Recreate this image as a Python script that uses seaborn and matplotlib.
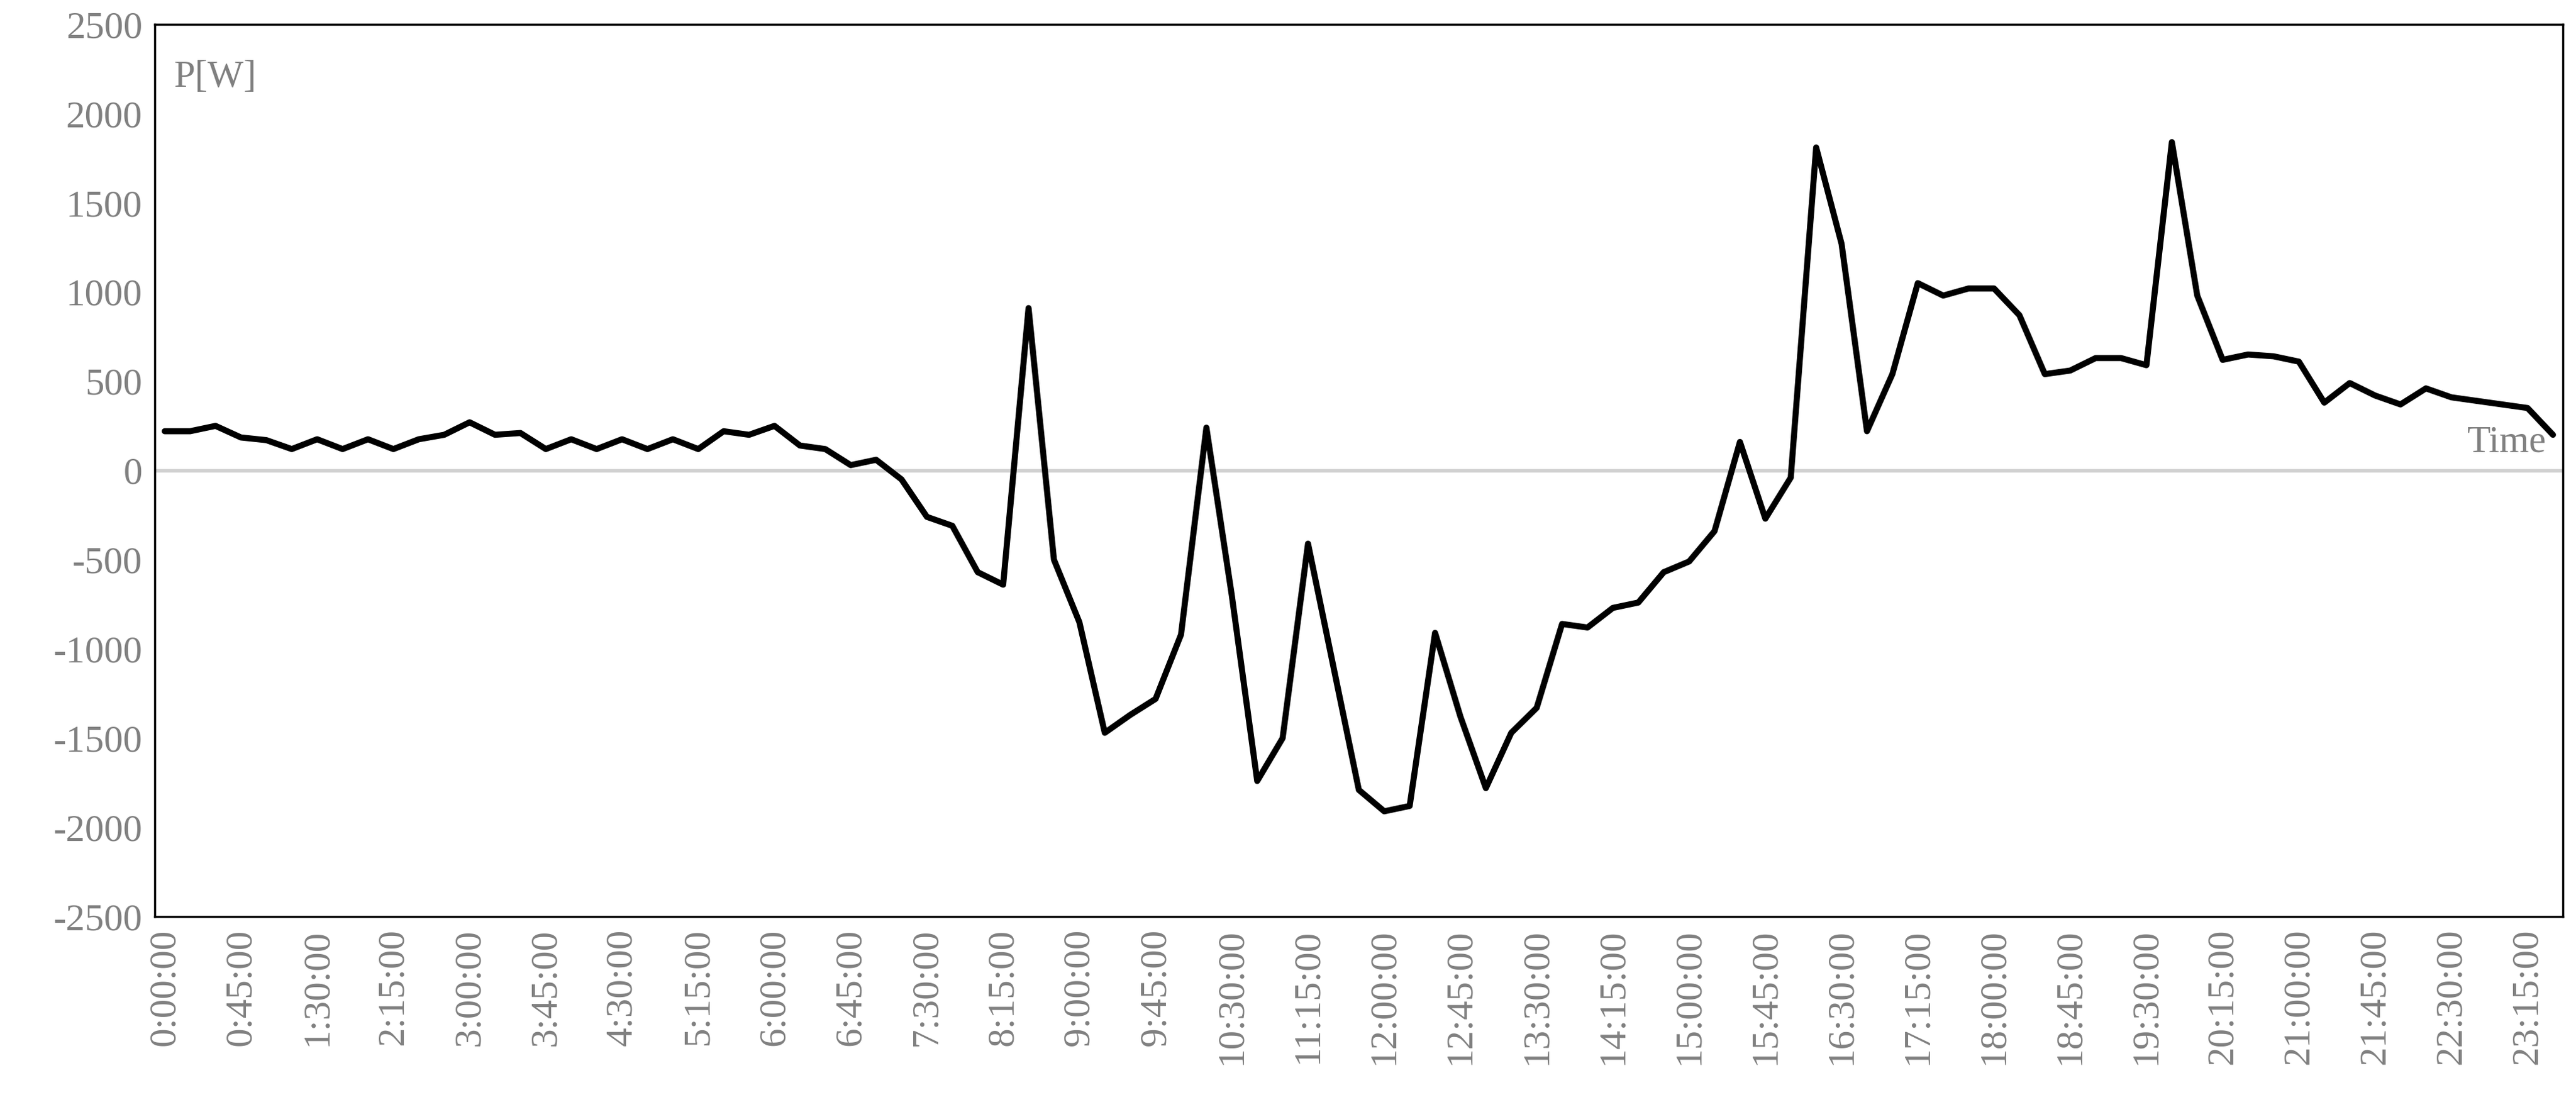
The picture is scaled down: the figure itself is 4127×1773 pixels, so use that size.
import numpy as np
import pandas as pd
import matplotlib
matplotlib.use("Agg")
import matplotlib.pyplot as plt
import seaborn as sns

# power at 15 minute steps over one day
power = [220, 220, 250, 185, 170, 120, 175, 120, 175, 120, 175, 200, 270, 200, 210, 120,
         175, 120, 175, 120, 175, 120, 220, 200, 250, 140, 120, 30, 60, -50, -260, -310,
         -570, -640, 910, -500, -850, -1470, -1370, -1280, -920, 240, -700, -1740, -1500, -410,
         -1100, -1790, -1910, -1880, -910, -1380, -1780, -1470, -1330, -860, -880, -770, -740, -570,
         -510, -340, 160, -270, -40, 1810, 1270, 220, 540, 1050, 980, 1020, 1020, 870, 540, 560,
         630, 630, 590, 1840, 980, 620, 650, 640, 610, 380, 490, 420, 370, 460, 410, 390,
         370, 350, 200]
times = ["%d:%02d:00" % (m // 60, m % 60) for m in range(0, 15 * len(power), 15)]

df = pd.DataFrame({"idx": np.arange(len(times)), "time": times, "P": power})

sns.set_style("white")
plt.rcParams["font.family"] = ["Liberation Serif", "DejaVu Serif"]
plt.rcParams["axes.unicode_minus"] = False
grey = "#808080"

fig = plt.figure(figsize=(41.27, 17.73), dpi=100)
ax = fig.add_axes([0.060, 0.172, 0.935, 0.806])

ax.axhline(0, color="#d0d0d0", lw=4, zorder=1)
sns.lineplot(data=df, x="idx", y="P", color="black", lw=7, ax=ax, zorder=3)

ax.set_xlim(-0.4, len(times) - 0.6)
ax.set_ylim(-2500, 2500)
ax.set_yticks(np.arange(-2500, 2501, 500))
ax.set_xticks(df["idx"][::3])
ax.set_xticklabels(df["time"][::3], rotation=90)
ax.tick_params(axis="both", labelsize=44, labelcolor=grey, length=0, pad=14)
ax.set_xlabel("")
ax.set_ylabel("")
for s in ax.spines.values():
    s.set_color("black")
    s.set_linewidth(2.5)

ax.text(0.008, 0.96, "P[W]", transform=ax.transAxes, fontsize=44, color=grey, va="top")
ax.text(0.993, 0.512, "Time", transform=ax.transAxes, fontsize=44, color=grey, ha="right", va="bottom")

fig.savefig("out.png", dpi=100)
